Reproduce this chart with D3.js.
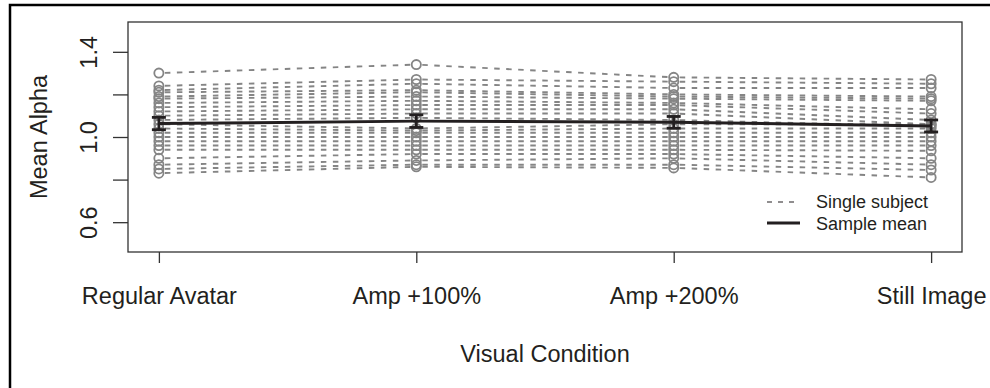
<!DOCTYPE html>
<html>
<head>
<meta charset="utf-8">
<script src="https://cdn.jsdelivr.net/npm/d3@7"></script>
<style>
  body { margin: 0; background: #fff; }
  svg { display: block; font-family: "Liberation Sans", Arial, Helvetica, sans-serif; }
</style>
</head>
<body>
<svg id="chart" width="990" height="388"></svg>
<script>
// data begin ----------------------------------
const conditions = ['Regular Avatar', 'Amp +100%', 'Amp +200%', 'Still Image'];
const regularAvatar = [1.30, 1.24, 1.22, 1.21, 1.19, 1.18, 1.16, 1.14, 1.12, 1.10, 1.08, 1.06, 1.04, 1.02, 1.00, 0.98, 0.96, 0.94, 0.90, 0.87, 0.85, 0.83];
const amp100 = [1.34, 1.27, 1.25, 1.22, 1.21, 1.19, 1.17, 1.15, 1.13, 1.11, 1.09, 1.04, 1.03, 1.02, 1.00, 0.98, 0.96, 0.94, 0.92, 0.89, 0.87, 0.86];
const amp200 = [1.28, 1.26, 1.23, 1.20, 1.19, 1.18, 1.16, 1.15, 1.13, 1.11, 1.08, 1.06, 1.04, 1.02, 1.00, 0.98, 0.96, 0.94, 0.92, 0.90, 0.87, 0.855];
const stillImage = [1.27, 1.25, 1.23, 1.19, 1.18, 1.17, 1.13, 1.11, 1.08, 1.06, 1.05, 1.06, 1.04, 1.02, 1.00, 0.98, 0.96, 0.935, 0.90, 0.87, 0.845, 0.81];
const yTicks = [0.6, 0.8, 1.0, 1.2, 1.4];
const yTickLabels = ['0.6', '1.0', '1.4'];
const legendLabels = ['Single subject', 'Sample mean'];
// data end ----------------------------------

const columns = [regularAvatar, amp100, amp200, stillImage];
const subjects = regularAvatar.map((_, i) => columns.map((c, j) => ({ x: j + 1, y: c[i] })));
const means = columns.map((c, j) => ({
    x: j + 1,
    y: d3.mean(c),
    se: d3.deviation(c) / Math.sqrt(c.length)
}));

const grey = '#858585';
const ink = '#231f20';
const plot = { left: 128, right: 962, top: 22, bottom: 252 };

const svg = d3.select('#chart');

// outer figure frame
svg.append('rect')
    .attr('x', 10).attr('y', 5).attr('width', 1000).attr('height', 400)
    .attr('fill', 'none').attr('stroke', '#000').attr('stroke-width', 2.5);

const x = d3.scaleLinear().domain([0.88, 4.12]).range([plot.left, plot.right]);
const y = d3.scaleLinear().domain([0.46, 1.54]).range([plot.bottom, plot.top]);

// single subjects: dashed lines with gaps around the points (type = "b")
const gap = 6;
const segs = svg.append('g').attr('class', 'subjects');
subjects.forEach(function(s) {
    for (let k = 0; k < s.length - 1; k++) {
        const x0 = x(s[k].x), y0 = y(s[k].y), x1 = x(s[k + 1].x), y1 = y(s[k + 1].y);
        const len = Math.hypot(x1 - x0, y1 - y0);
        const ux = (x1 - x0) / len, uy = (y1 - y0) / len;
        segs.append('line')
            .attr('x1', x0 + ux * gap).attr('y1', y0 + uy * gap)
            .attr('x2', x1 - ux * gap).attr('y2', y1 - uy * gap)
            .attr('stroke', grey).attr('stroke-width', 1.9)
            .attr('stroke-dasharray', '5.5,6.5');
    }
});
svg.append('g').attr('class', 'points')
    .selectAll('circle')
    .data(subjects.flat())
    .join('circle')
    .attr('cx', d => x(d.x)).attr('cy', d => y(d.y)).attr('r', 4.6)
    .attr('fill', 'none').attr('stroke', grey).attr('stroke-width', 1.8);

// sample mean with standard error bars
svg.append('path')
    .datum(means)
    .attr('d', d3.line().x(d => x(d.x)).y(d => y(d.y)))
    .attr('fill', 'none').attr('stroke', ink).attr('stroke-width', 3);
const eb = svg.append('g').attr('class', 'errorbars')
    .selectAll('g').data(means).join('g')
    .attr('stroke', ink).attr('stroke-width', 2.8);
eb.append('line')
    .attr('x1', d => x(d.x)).attr('x2', d => x(d.x))
    .attr('y1', d => y(d.y - d.se)).attr('y2', d => y(d.y + d.se));
[1, -1].forEach(function(sign) {
    eb.append('line')
        .attr('x1', d => x(d.x) - 7).attr('x2', d => x(d.x) + 7)
        .attr('y1', d => y(d.y + sign * d.se)).attr('y2', d => y(d.y + sign * d.se));
});

// plot box
svg.append('rect')
    .attr('x', plot.left).attr('y', plot.top)
    .attr('width', plot.right - plot.left).attr('height', plot.bottom - plot.top)
    .attr('fill', 'none').attr('stroke', '#333').attr('stroke-width', 1.3);

// axes
const yAxis = d3.axisLeft(y).tickValues(yTicks).tickSize(15).tickSizeOuter(0)
    .tickFormat(d => yTickLabels.includes(d3.format('.1f')(d)) ? d3.format('.1f')(d) : '');
const gy = svg.append('g').attr('transform', 'translate(' + plot.left + ',0)').call(yAxis);
gy.select('.domain').remove();
gy.selectAll('line').attr('stroke', '#333').attr('stroke-width', 1.3);
gy.selectAll('text')
    .attr('x', 0).attr('dy', 0)
    .attr('transform', 'translate(-31,0) rotate(-90)')
    .style('text-anchor', 'middle')
    .attr('fill', ink).style('font-size', '23.5px');

const xAxis = d3.axisBottom(x).tickValues([1, 2, 3, 4]).tickSize(11).tickSizeOuter(0).tickPadding(24)
    .tickFormat(d => conditions[d - 1]);
const gx = svg.append('g').attr('transform', 'translate(0,' + plot.bottom + ')').call(xAxis);
gx.select('.domain').remove();
gx.selectAll('line').attr('stroke', '#333').attr('stroke-width', 1.3);
gx.selectAll('text').attr('fill', ink).style('font-size', '23.5px');

svg.append('text')
    .attr('x', (plot.left + plot.right) / 2).attr('y', 362)
    .style('text-anchor', 'middle').style('font-size', '23.5px').attr('fill', ink)
    .text('Visual Condition');
svg.append('text')
    .attr('transform', 'translate(47,' + (plot.top + plot.bottom) / 2 + ') rotate(-90)')
    .style('text-anchor', 'middle').style('font-size', '23.5px').attr('fill', ink)
    .text('Mean Alpha');

// legend
const lg = svg.append('g').attr('class', 'legend');
lg.append('line').attr('x1', 767).attr('x2', 798).attr('y1', 202).attr('y2', 202)
    .attr('stroke', ink).attr('stroke-width', 1.2).attr('stroke-dasharray', '5,6');
lg.append('line').attr('x1', 767).attr('x2', 800).attr('y1', 223).attr('y2', 223)
    .attr('stroke', ink).attr('stroke-width', 3);
lg.selectAll('text').data(legendLabels).join('text')
    .attr('x', 816).attr('y', (d, i) => 208 + i * 22)
    .style('font-size', '18px').attr('fill', ink)
    .text(d => d);
</script>
</body>
</html>
